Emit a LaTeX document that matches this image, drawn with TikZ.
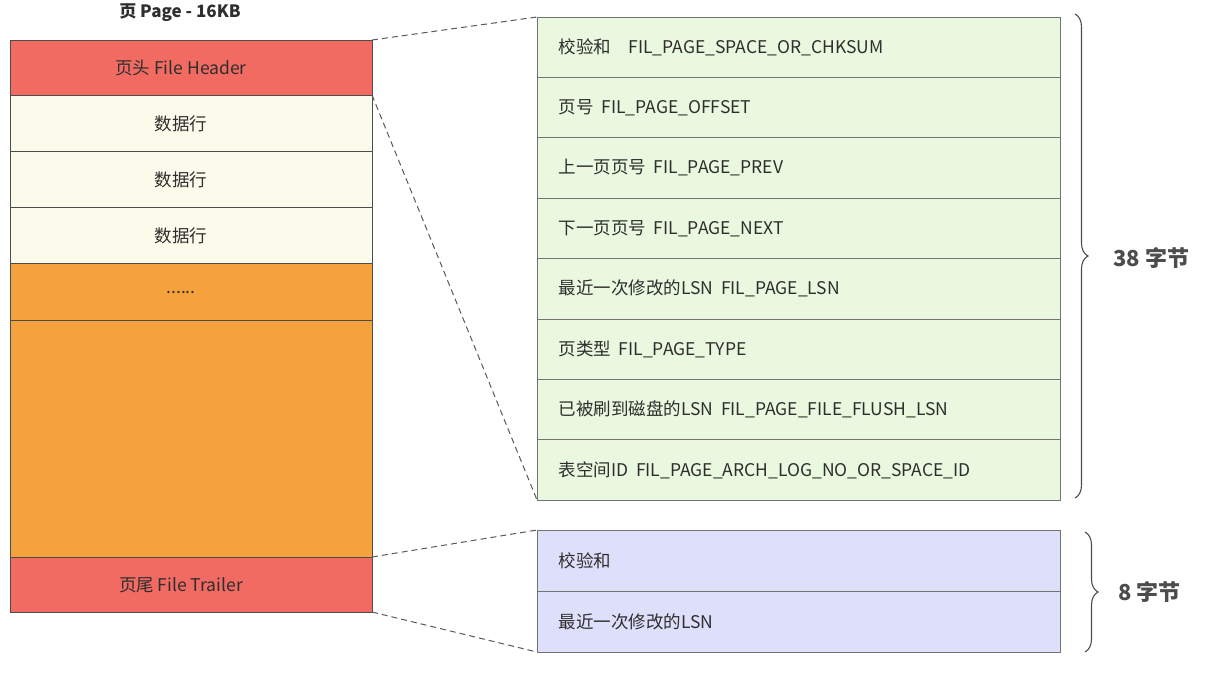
\documentclass[tikz,border=0pt]{standalone}
\usepackage{fontspec}
\setmainfont{Noto Sans CJK SC}
\usetikzlibrary{decorations.pathreplacing}
\definecolor{hdr}{HTML}{F26B63}
\definecolor{rowc}{HTML}{FCFAEA}
\definecolor{orng}{HTML}{F5A23C}
\definecolor{grn}{HTML}{E9F8DE}
\definecolor{prp}{HTML}{DEDFFA}
\definecolor{txt}{HTML}{2E2E2E}
\begin{document}
\begin{tikzpicture}[x=1pt,y=-1pt,
  cell/.style={draw=black!70,line width=0.8pt},
  rcell/.style={cell,draw=black!55},
  lbl/.style={text=txt,font=\fontsize{17.5}{20}\selectfont},
  conn/.style={dash pattern=on 6pt off 4pt,line width=1pt,black!65},
  br/.style={decorate,decoration={brace,amplitude=13pt},line width=1.1pt,black!70}]
\useasboundingbox (0,0) rectangle (1222,672);
\node[text=txt,font=\fontsize{17}{20}\selectfont\bfseries] (title) at (180,13) {页 Page - 16KB};
% left column
\path[cell,fill=hdr] (10,40) rectangle (372,95);
\node[lbl] (h) at (181,68) {页头 File Header};
\foreach \y/\n in {95/r1,151/r2,207/r3}{
  \path[cell,fill=rowc] (10,\y) rectangle (372,\y+56);
  \node[lbl] (\n) at (181,\y+29) {数据行};
}
\path[cell,fill=orng] (10,263) rectangle (372,320);
\node[lbl] (dots) at (181,293) {......};
\path[cell,fill=orng] (10,320) rectangle (372,557);
\path[cell,fill=hdr] (10,557) rectangle (372,612);
\node[lbl] (t) at (181,585) {页尾 File Trailer};
\coordinate (L1) at (372,40); \coordinate (L2) at (372,95);
\coordinate (L3) at (372,557); \coordinate (L4) at (372,612);
% green
\foreach \i/\s in {0/{校验和\quad FIL\_PAGE\_SPACE\_OR\_CHKSUM},1/{页号\ \ FIL\_PAGE\_OFFSET},2/{上一页页号\ \ FIL\_PAGE\_PREV},3/{下一页页号\ \ FIL\_PAGE\_NEXT},4/{最近一次修改的LSN\ \ FIL\_PAGE\_LSN},5/{页类型\ \ FIL\_PAGE\_TYPE},6/{已被刷到磁盘的LSN\ \ FIL\_PAGE\_FILE\_FLUSH\_LSN},7/{表空间ID\ \ FIL\_PAGE\_ARCH\_LOG\_NO\_OR\_SPACE\_ID}}{
  \path[rcell,fill=grn] (537,17+\i*60.4) rectangle (1060,17+\i*60.4+60.4);
  \node[lbl,anchor=west] (g\i) at (555,17+\i*60.4+30.2) {\s};
}
\foreach \i/\s in {0/校验和,1/最近一次修改的LSN}{
  \path[rcell,fill=prp] (537,530+\i*61) rectangle (1060,591+\i*61);
  \node[lbl,anchor=west] (p\i) at (555,561+\i*61) {\s};
}
\coordinate (R1) at (537,17); \coordinate (R2) at (537,500);
\coordinate (R3) at (537,530); \coordinate (R4) at (537,652);
\draw[conn] (L1) -- (R1);
\draw[conn] (L2) -- (R2);
\draw[conn] (L3) -- (R3);
\draw[conn] (L4) -- (R4);
\draw[br] (1075,14) -- (1075,498);
\draw[br] (1085,532) -- (1085,652);
\node[anchor=west,text=black!70,font=\fontsize{22}{26}\selectfont\bfseries] (b1) at (1110,258) {38 字节};
\node[anchor=west,text=black!70,font=\fontsize{22}{26}\selectfont\bfseries] (b2) at (1115,592) {8 字节};
\end{tikzpicture}
\end{document}
